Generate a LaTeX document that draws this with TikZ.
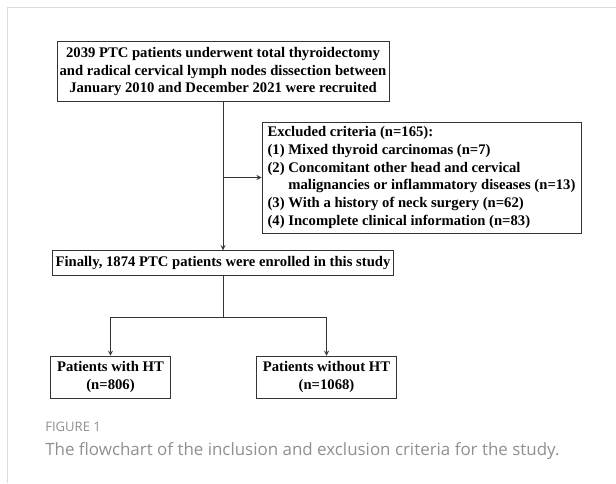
\documentclass[tikz,border=0pt]{standalone}
\usepackage{fontspec}
\setmainfont{Liberation Serif}
\newfontfamily\capfont{Open Sans}
\usetikzlibrary{positioning}
\definecolor{framegray}{HTML}{DADADA}
\definecolor{capgray}{HTML}{8F8F8F}
\tikzset{
    flowbox/.style={draw=black!80, line width=0.7pt, inner sep=0pt, align=center,
        font=\bfseries\fontsize{11}{13.3}\selectfont},
    flowline/.style={black!80, line width=0.7pt}
}

\begin{document}
\begin{tikzpicture}[x=0.75pt, y=-0.75pt]
    \useasboundingbox (0,0) rectangle (616,483);
    \draw[framegray, line width=1.1pt] (7.5,483) -- (7.5,7.5) -- (616,7.5);
    \node[flowbox, minimum width=249pt, minimum height=45pt] (recruit) at (223,71.5)
        {2039 PTC patients underwent total thyroidectomy\\
         and radical cervical lymph nodes dissection between\\
         January 2010 and December 2021 were recruited};
    \node[flowbox, align=left, minimum width=239.25pt, minimum height=83.25pt] (exclude) at (421.5,177.5)
        {Excluded criteria (n=165):\\
         (1) Mixed thyroid carcinomas (n=7)\\
         (2) Concomitant other head and cervical\\
         \hspace*{1.42em}malignancies or inflammatory diseases (n=13)\\
         (3) With a history of neck surgery (n=62)\\
         (4) Incomplete clinical information (n=83)};
    \node[flowbox, minimum width=255.75pt, minimum height=18.75pt] (enrol) at (223,263.2)
        {Finally, 1874 PTC patients were enrolled in this study};
    \node[flowbox, minimum width=90pt, minimum height=31.5pt] (withht) at (110.5,377.2)
        {Patients with HT\\(n=806)};
    \node[flowbox, minimum width=105pt, minimum height=31.5pt] (withoutht) at (326.5,377.2)
        {Patients without HT\\(n=1068)};
    \coordinate (split) at (223,317.3);
    \draw[flowline, -stealth] (recruit.south) -- (enrol.north);
    \draw[flowline, -stealth] (recruit.south |- exclude.west) -- (exclude.west);
    \draw[flowline] (enrol.south) -- (split);
    \draw[flowline, -stealth] (split) -| (withht.north);
    \draw[flowline, -stealth] (split) -| (withoutht.north);
    \node[anchor=west, inner sep=0pt, text=capgray, font=\capfont\fontsize{9.8}{12}\selectfont] (figlabel) at (45,426.5)
        {FIGURE 1};
    \node[anchor=west, inner sep=0pt, text=capgray, font=\capfont\fontsize{12.7}{15}\selectfont] (caption) at (45,451)
        {The flowchart of the inclusion and exclusion criteria for the study.};
\end{tikzpicture}
\end{document}
